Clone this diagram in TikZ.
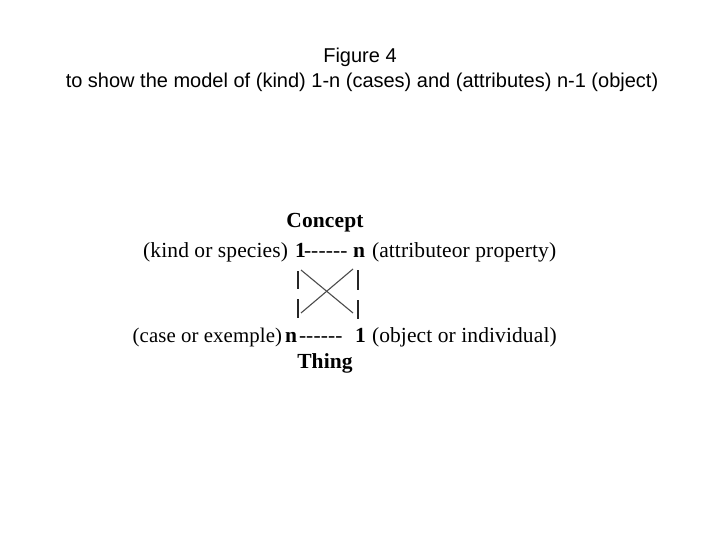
\documentclass[tikz,border=0pt]{standalone}
\usepackage{fontspec}
\setmainfont{Liberation Serif}
\newfontfamily\titlefont{Liberation Sans}
\newfontfamily\diagfont[LetterSpace=0.5]{Liberation Serif}
\begin{document}
\begin{tikzpicture}[x=1pt,y=-1pt,
  ttl/.style={font=\titlefont\fontsize{20}{24}\selectfont, inner sep=0pt, outer sep=0pt, anchor=base},
  lbl/.style={font=\diagfont\fontsize{21.5}{24}\selectfont, inner sep=0pt, outer sep=0pt, anchor=base west},
  lble/.style={lbl, anchor=base east},
  num/.style={font=\diagfont\bfseries\fontsize{21.5}{24}\selectfont, inner sep=0pt, outer sep=0pt, anchor=base west},
  hdr/.style={font=\diagfont\bfseries\fontsize{21.5}{24}\selectfont, inner sep=0pt, outer sep=0pt, anchor=base},
  bar/.style={draw=black!85, line width=1.3pt},
  crossline/.style={draw=black!70, line width=1.1pt}]
\useasboundingbox (0,0) rectangle (720,540);
\fill[white] (0,0) rectangle (720,540);
% title
\node[ttl] (t1) at (360,63) {Figure 4};
\node[ttl] (t2) at (362,88) {to show the model of (kind) 1-n (cases) and (attributes) n-1 (object)};
% header / footer
\node[hdr] (concept) at (325,228) {Concept};
\node[hdr] (thing) at (325,368) {Thing};
% top line
\node[lble] (kind) at (288,257) {(kind or species)};
\node[num] (c1) at (295,257) {1};
\node[lbl] (cd) at (304,257) {------};
\node[num] (cn) at (353,257) {n};
\node[lbl] (attr) at (372,257) {(attributeor property)};
% bottom line
\node[lble, font=\diagfont\fontsize{20.8}{24}\selectfont] (case) at (282,342) {(case or exemple)};
\node[num] (tn) at (285,342) {n};
\node[lbl] (td) at (299,342) {------};
\node[num] (t1n) at (355,342) {1};
\node[lbl] (obj) at (372,342) {(object or individual)};
% bars
\coordinate (la1) at (298,271); \coordinate (la2) at (298,289);
\coordinate (lb1) at (298,299); \coordinate (lb2) at (298,318);
\coordinate (ra1) at (358,270); \coordinate (ra2) at (358,290);
\coordinate (rb1) at (358,300); \coordinate (rb2) at (358,319);
\draw[bar] (la1) -- (la2);
\draw[bar] (lb1) -- (lb2);
\draw[bar] (ra1) -- (ra2);
\draw[bar] (rb1) -- (rb2);
% cross
\coordinate (xa1) at (301,270); \coordinate (xa2) at (353,313);
\coordinate (xb1) at (353,269); \coordinate (xb2) at (301,313);
\draw[crossline] (xa1) -- (xa2);
\draw[crossline] (xb1) -- (xb2);
\end{tikzpicture}
\end{document}
